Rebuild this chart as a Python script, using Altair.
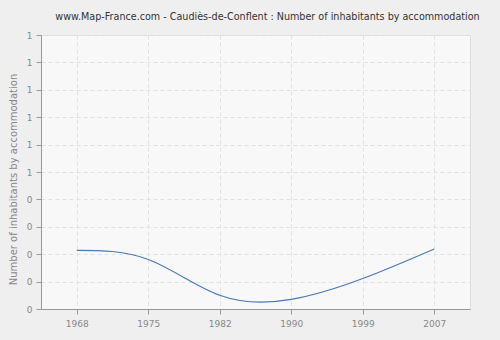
import altair as alt
import pandas as pd

years = ["1968", "1975", "1982", "1990", "1999", "2007"]
values = [0.214, 0.181, 0.050, 0.035, 0.111, 0.219]

df = pd.DataFrame({"year": years, "value": values})

FONT = "DejaVu Sans"

line = alt.Chart(df).mark_line(
    interpolate="natural", color="#4a78b4", strokeWidth=1.1
).encode(
    x=alt.X("year:O", sort=years,
            scale=alt.Scale(type="point", padding=0.5),
            axis=alt.Axis(title=None, labelAngle=0, grid=True,
                          gridDash=[4, 3], gridColor="#e2e2e2",
                          domainColor="#999999", tickColor="#999999",
                          tickSize=5, labelColor="#888888", labelFontSize=9,
                          labelFont=FONT, labelPadding=5)),
    y=alt.Y("value:Q", scale=alt.Scale(domain=[0, 1], nice=False),
            axis=alt.Axis(title="Number of inhabitants by accommodation",
                          values=[0, 0.1, 0.2, 0.3, 0.4, 0.5, 0.6, 0.7, 0.8, 0.9, 1.0],
                          format=".0f", grid=True, gridDash=[4, 3],
                          gridColor="#e2e2e2", domainColor="#999999",
                          tickColor="#999999", tickSize=5,
                          labelColor="#888888", labelFontSize=9, labelFont=FONT,
                          labelPadding=4, titleColor="#888888",
                          titleFontSize=10, titleFont=FONT,
                          titleFontWeight="normal", titlePadding=8,
                          titleY=144)),
)

chart = line.properties(
    width=429, height=274,
    title=alt.TitleParams(
        "www.Map-France.com - Caudiès-de-Conflent : Number of inhabitants by accommodation",
        fontSize=9.6, font=FONT, fontWeight="normal", color="#333333",
        anchor="middle", offset=9, dx=12),
    background="#efefef",
    padding={"left": 41, "top": 35, "right": 30, "bottom": 31},
    autosize=alt.AutoSizeParams(type="none"),
).configure_view(
    fill="#f8f8f8", stroke="#dddddd"
)

chart.save("out.html", embed_options={"renderer": "svg", "actions": False})
